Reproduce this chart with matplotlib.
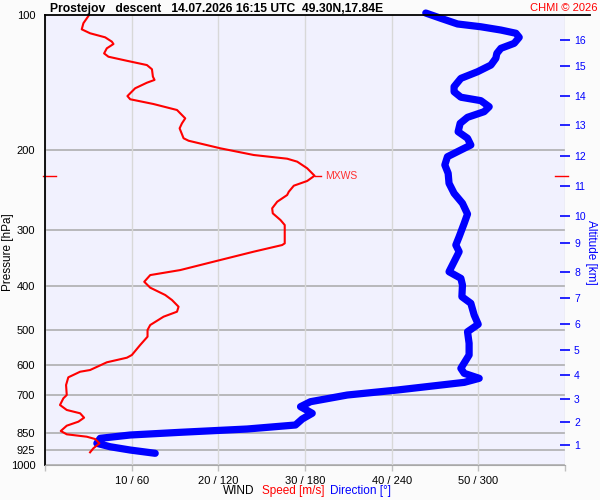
import matplotlib
matplotlib.use("Agg")
import matplotlib.pyplot as plt
import matplotlib.transforms as mtransforms
from matplotlib.lines import Line2D

plt.rcParams["font.family"] = ["Liberation Sans", "DejaVu Sans"]

# wind speed profile [m/s] vs pressure [hPa]
speed_p = [100, 104.3, 107.6, 109.8, 112.1, 114.6, 116.0, 118.6, 121.7, 123.8,
           126.4, 129.2, 132.0, 137.1, 139.4, 141.4, 145.5, 151.4, 153.9, 157.7,
           162.6, 169.7, 174.1, 178.6, 187.9, 190.3, 197.8, 204.7, 208.6, 211.8,
           219.1, 227.6, 233.8, 239.5, 247.0, 251.2, 260.0, 268.9, 275.9, 285.5,
           292.9, 321.7, 324.5, 335.7, 350.3, 368.8, 378.4, 391.6, 403.6, 419.0,
           429.9, 444.9, 456.4, 468.2, 488.6, 501.2, 518.6, 541.2, 569.6, 577.5,
           591.3, 615.1, 620.5, 638.5, 664.2, 699.0, 710.9, 735.6, 754.6, 767.5,
           785.0, 801.2, 817.8, 840.3, 854.7, 865.2, 875.5, 895.0, 918.2, 937.2]
speed = [5.09, 4.43, 4.24, 5.20, 6.94, 7.71, 7.90, 7.13, 6.82, 7.32,
         9.45, 11.76, 12.34, 12.45, 12.64, 11.76, 10.40, 9.51, 9.83, 12.52,
         15.23, 16.18, 15.80, 15.53, 15.99, 16.57, 20.23, 24.08, 27.94, 29.10,
         30.25, 31.10, 30.25, 28.71, 28.13, 27.94, 26.79, 26.21, 26.28, 27.17,
         27.66, 27.66, 27.36, 24.08, 20.23, 15.61, 12.14, 11.45, 12.14, 13.87,
         14.65, 15.41, 15.23, 13.68, 12.14, 11.83, 11.83, 10.98, 10.02, 9.45,
         7.13, 5.20, 4.05, 2.69, 2.43, 2.51, 2.12, 1.73, 2.51, 4.05,
         4.51, 3.85, 2.51, 1.82, 2.51, 4.82, 5.78, 6.28, 5.58, 5.20]

# wind direction profile [deg] vs pressure [hPa]
dir_p = [99.0, 101.7, 104.7, 106.2, 108.0, 109.8, 112.1, 115.6, 118.6, 121.7,
         124.8, 129.2, 133.7, 138.3, 144.3, 148.1, 152.3, 155.0, 159.9, 164.0,
         168.8, 174.1, 181.7, 187.9, 194.5, 199.5, 206.5, 215.4, 224.8, 236.6,
         249.0, 262.1, 276.9, 290.4, 311.0, 324.5, 335.7, 353.4, 372.0, 384.8,
         398.1, 422.7, 437.2, 464.2, 486.8, 505.6, 536.5, 569.6, 609.8, 625.6,
         641.8, 655.2, 681.3, 699.0, 723.3, 742.0, 767.5, 790.2, 814.9, 831.8,
         846.0, 857.7, 872.4, 895.0, 910.8, 926.3, 941.9]
direction = [263.6, 274.0, 285.6, 301.7, 315.6, 326.0, 328.3, 324.8, 315.6, 312.8,
             312.1, 308.7, 299.4, 287.9, 283.2, 283.2, 287.9, 301.7, 307.5, 304.0,
             292.5, 287.4, 286.0, 292.5, 294.8, 287.9, 278.6, 276.8, 279.1, 279.7,
             283.2, 289.0, 292.5, 290.2, 286.7, 284.4, 286.7, 283.2, 279.7, 287.9,
             289.0, 288.6, 294.8, 297.1, 299.9, 292.5, 293.6, 293.6, 287.9, 290.2,
             300.6, 290.2, 244.0, 209.3, 183.8, 176.9, 185.0, 178.1, 173.4, 139.9,
             93.6, 59.0, 38.2, 35.9, 45.1, 59.0, 76.3]

p_levels = [100, 200, 300, 400, 500, 600, 700, 850, 925, 1000]
x_ticks = [0, 10, 20, 30, 40, 50, 60]
x_labels = ["", "10 / 60", "20 / 120", "30 / 180", "40 / 240", "50 / 300", ""]
alt_km = list(range(1, 17))
alt_p = [902.7, 803.7, 713.5, 631.0, 555.2, 486.8, 426.2, 372.0, 321.7, 279.3,
         239.5, 205.8, 175.6, 151.4, 129.8, 113.5]
mxws_p = 228.5
mxws_speed = 31.1

fig = plt.figure(figsize=(6, 5), dpi=100, facecolor="#fbfbfb")
ax = fig.add_axes([0.075, 0.07, 0.8667, 0.9])
ax.set_facecolor("#f1f1fe")
ax.set_yscale("log")
ax.set_ylim(1000, 100)
ax.set_xlim(0, 60)

# grid
for p in p_levels[1:]:
    ax.axhline(p, color="#a8a8a8", lw=1.1, zorder=1)
ax.set_xticks(x_ticks)
ax.set_xticklabels(x_labels, fontsize=8)
ax.grid(axis="x", color="#d8d8d8", lw=1.0, zorder=0)
ax.tick_params(axis="x", length=4, width=1, color="#c0c0c0", pad=4)
ax.set_yticks(p_levels)
ax.set_yticklabels([str(p) for p in p_levels], fontsize=8)
ax.yaxis.set_minor_locator(matplotlib.ticker.NullLocator())
ax.tick_params(axis="y", length=0, pad=7)

ax.spines["right"].set_visible(False)
ax.spines["top"].set_visible(False)
ax.spines["bottom"].set_color("#a8a8a8")
ax.spines["left"].set_linewidth(1.3)
fig.add_artist(Line2D([0.075, 0.983], [0.97, 0.97], color="black", lw=1.3))

# profiles (direction shares the axis: 60 m/s <-> 360 deg)
ax.plot([d / 6.0 for d in direction], dir_p, color="#0000ff", lw=5.2,
        solid_capstyle="round", solid_joinstyle="round", zorder=3, clip_on=False)
ax.plot(speed, speed_p, color="#ff0000", lw=1.5, zorder=4)

# max wind marker
tr = mtransforms.blended_transform_factory(ax.transAxes, ax.transData)
ax.plot([-0.004, 0.021], [mxws_p, mxws_p], color="red", lw=1, transform=tr, clip_on=False)
ax.plot([0.981, 1.006], [mxws_p, mxws_p], color="red", lw=1, transform=tr, clip_on=False)
ax.plot([mxws_speed, mxws_speed + 0.8], [mxws_p, mxws_p], color="red", lw=1)
ax.text(mxws_speed + 1.2, mxws_p, "MXWS", color="#ff3030", fontsize=7.5, va="center")

# altitude axis
ax2 = ax.twinx()
ax2.set_yscale("log")
ax2.set_ylim(1000, 100)
ax2.set_yticks(alt_p)
ax2.set_yticklabels([str(a) for a in alt_km], fontsize=7.5, color="#0000ff")
ax2.yaxis.set_minor_locator(matplotlib.ticker.NullLocator())
ax2.tick_params(axis="y", direction="inout", length=7, width=1.2, color="#0000ff", pad=3)
for s in ax2.spines.values():
    s.set_visible(False)

fig.text(0.014, 0.496, "Pressure [hPa]", rotation=90, fontsize=8.5,
         ha="center", va="center")
fig.text(0.985, 0.496, "Altitude [km]", rotation=270, color="#0000ff", fontsize=8.5,
         ha="center", va="center")

# titles
fig.text(0.083, 0.982, "Prostejov   descent   14.07.2026 16:15 UTC  49.30N,17.84E",
         fontsize=8.7, fontweight="bold", va="center")
fig.text(0.996, 0.984, "CHMI © 2026", color="#ff0000", fontsize=8, ha="right", va="center")

fig.text(0.398, 0.018, "WIND", fontsize=8.5, ha="center", va="center")
fig.text(0.4883, 0.018, "Speed [m/s]", fontsize=8.5, color="#ff0000", ha="center", va="center")
fig.text(0.60, 0.018, "Direction [°]", fontsize=8.5, color="#0000ff", ha="center", va="center")

fig.savefig("out.png", dpi=100, facecolor=fig.get_facecolor())
